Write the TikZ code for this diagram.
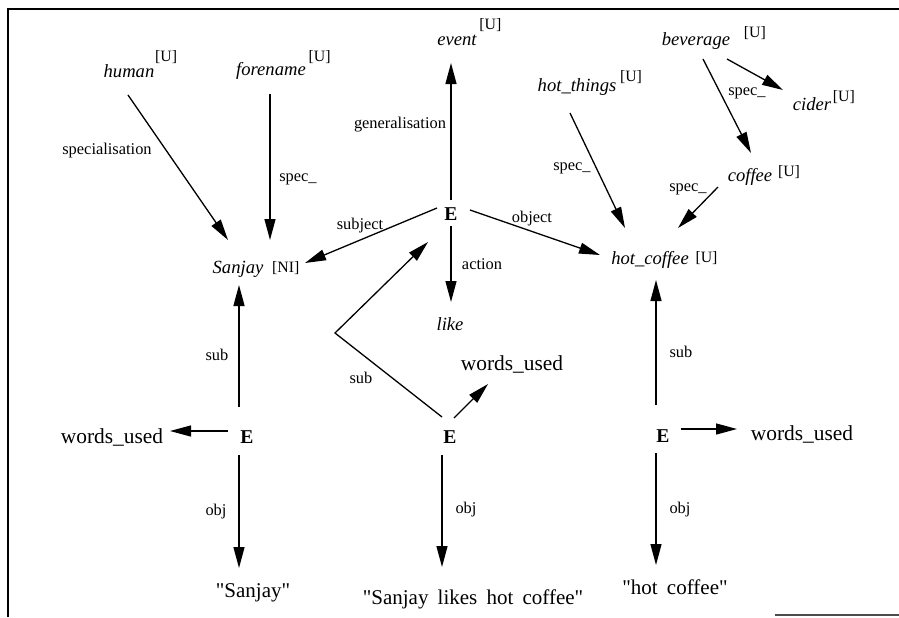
\documentclass[tikz,border=0pt]{standalone}
\usepackage{fontspec}
\setmainfont{Liberation Serif}
\newfontfamily\strfont{Liberation Serif}[Ligatures=TeXOff]
\usepackage{tikz}
\usetikzlibrary{arrows.meta,positioning,calc}
\newcommand{\wsp}{\hspace{4.6pt}}

\begin{document}
\begin{tikzpicture}[
  x=0.5pt, y=-0.5pt,
  concept/.style={inner sep=0pt, anchor=base, font=\fontsize{9.3}{11}\selectfont\itshape},
  utag/.style={inner sep=0pt, anchor=base west, font=\fontsize{7.9}{9}\selectfont},
  ent/.style={inner sep=0pt, anchor=base, font=\fontsize{9.8}{11}\selectfont\bfseries},
  wordbox/.style={inner sep=0pt, anchor=base, font=\fontsize{10.7}{12}\selectfont},
  qtext/.style={inner sep=0pt, anchor=base, font=\strfont\fontsize{10.5}{12}\selectfont},
  rel/.style={inner sep=0pt, anchor=base, font=\fontsize{8.2}{9}\selectfont},
  arr/.style={-{Triangle[length=10.5pt,width=5.5pt]}, line width=0.65pt},
  boxline/.style={line width=1pt}
]
\useasboundingbox (0,0) rectangle (899,617);

% frame
\draw[boxline] (8,617) -- (8,9) -- (899,9);
\draw[boxline, black!70] (775,615) -- (899,615);

% concepts
\node[concept] (human) at (129,77) {human};
\node[utag] at ([shift={(0,-16)}]human.base east) {[U]};
\node[concept] (forename) at (271,75) {forename};
\node[utag] at ([shift={(2,-14)}]forename.base east) {[U]};
\node[concept] (event) at (457,45) {event};
\node[utag] at ([shift={(2,-16)}]event.base east) {[U]};
\node[concept] (beverage) at (696,45) {beverage};
\node[utag] at ([shift={(13,-8)}]beverage.base east) {[U]};
\node[concept] (hotthings) at (577,91) {hot\_things};
\node[utag] at ([shift={(3,-10)}]hotthings.base east) {[U]};
\node[concept] (cider) at (812,110) {cider};
\node[utag] at ([shift={(1,-9)}]cider.base east) {[U]};
\node[concept] (coffee) at (750,181) {coffee};
\node[utag] at ([shift={(5,-5)}]coffee.base east) {[U]};
\node[concept] (hotcoffee) at (650,264) {hot\_coffee};
\node[utag] at ([shift={(6,-2)}]hotcoffee.base east) {[U]};
\node[concept] (sanjay) at (238,273) {Sanjay};
\node[utag] at ([shift={(8,-1)}]sanjay.base east) {[NI]};
\node[concept] (like) at (450,330) {like};

% entities
\node[ent] (eTop) at (451,220) {E};
\node[ent] (eLeft) at (247,443) {E};
\node[ent] (eMid) at (450,443) {E};
\node[ent] (eRight) at (663,442) {E};

% words used and strings
\node[wordbox] (wuLeft) at (112,443) {words\_used};
\node[wordbox] (wuMid) at (512,370) {words\_used};
\node[wordbox] (wuRight) at (802,440) {words\_used};
\node[qtext] (strSanjay) at (253,597) {"Sanjay"};
\node[qtext] (strSentence) at (473,604) {"Sanjay\wsp likes\wsp hot\wsp coffee"};
\node[qtext] (strCoffee) at (675,594) {"hot\wsp coffee"};

\coordinate (bend) at (335,333);

% hierarchy links
\draw[arr] ([shift={(-1,18)}]human.base) -- ([shift={(-10,-33)}]sanjay.base);
\draw[arr] ([shift={(-1,19)}]forename.base) -- ([shift={(32,-33)}]sanjay.base);
\draw[arr] ([shift={(-7,22)}]hotthings.base) -- ([shift={(-25,-36)}]hotcoffee.base);
\draw[arr] ([shift={(7,14)}]beverage.base) -- ([shift={(1,-28)}]coffee.base);
\draw[arr] ([shift={(31,14)}]beverage.base) -- ([shift={(-29,-20)}]cider.base);
\draw[arr] ([shift={(-32,6)}]coffee.base) -- ([shift={(28,-36)}]hotcoffee.base);

% the event
\draw[arr] ([shift={(0,-20)}]eTop.base) -- ([shift={(-6,18)}]event.base);
\draw[arr] ([shift={(-14,-12)}]eTop.base) -- ([shift={(67,-10)}]sanjay.base);
\draw[arr] ([shift={(19,-10)}]eTop.base) -- ([shift={(-50,-9)}]hotcoffee.base);
\draw[arr] ([shift={(0,6)}]eTop.base) -- ([shift={(1,-28)}]like.base);

% lexical entities
\draw[arr] ([shift={(-8,-36)}]eLeft.base) -- ([shift={(1,12)}]sanjay.base);
\draw[arr] ([shift={(-19,-12)}]eLeft.base) -- ([shift={(58,-12)}]wuLeft.base);
\draw[arr] ([shift={(-8,12)}]eLeft.base) -- ([shift={(-14,-29)}]strSanjay.base);
\draw[arr] ([shift={(-8,-26)}]eMid.base) -- (bend) -- ([shift={(-23,22)}]eTop.base);
\draw[arr] ([shift={(4,-25)}]eMid.base) -- ([shift={(-24,14)}]wuMid.base);
\draw[arr] ([shift={(-8,12)}]eMid.base) -- ([shift={(-31,-37)}]strSentence.base);
\draw[arr] ([shift={(-7,-37)}]eRight.base) -- ([shift={(6,16)}]hotcoffee.base);
\draw[arr] ([shift={(18,-13)}]eRight.base) -- ([shift={(-65,-11)}]wuRight.base);
\draw[arr] ([shift={(-7,11)}]eRight.base) -- ([shift={(-19,-29)}]strCoffee.base);

% link labels
\node[rel] (lSpecial) at (107,154) {specialisation};
\node[rel] (lSpecFore) at (298,181) {spec\_};
\node[rel] (lGeneral) at (400,128) {generalisation};
\node[rel] (lSubject) at (360,229) {subject};
\node[rel] (lObject) at (532,222) {object};
\node[rel] (lAction) at (482,269) {action};
\node[rel] (lSpecHot) at (572,170) {spec\_};
\node[rel] (lSpecBev) at (747,95) {spec\_};
\node[rel] (lSpecCof) at (688,191) {spec\_};
\node[rel] (lSubL) at (217,360) {sub};
\node[rel] (lSubM) at (361,383) {sub};
\node[rel] (lSubR) at (681,357) {sub};
\node[rel] (lObjL) at (216,515) {obj};
\node[rel] (lObjM) at (466,513) {obj};
\node[rel] (lObjR) at (680,513) {obj};
\end{tikzpicture}
\end{document}
